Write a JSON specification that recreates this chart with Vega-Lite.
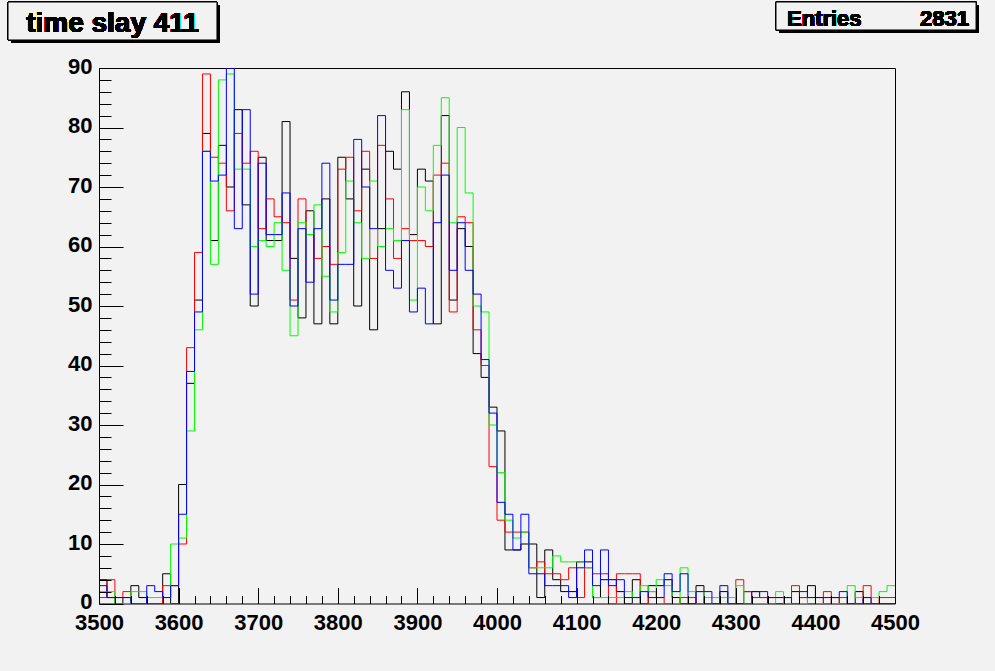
{
  "$schema": "https://vega.github.io/schema/vega-lite/v6.json",
  "width": 796,
  "height": 535.5,
  "autosize": {"type": "none"},
  "padding": {"left": 99, "top": 68, "right": 100, "bottom": 67.5},
  "background": "#f2f2f2",
  "config": {
    "view": {"stroke": "#000000", "strokeWidth": 1},
    "font": "Liberation Sans"
  },
  "datasets": {
    "hist": [
      {"t":3500,"k":4,"r":1,"g":2,"b":3},{"t":3510,"k":1,"r":4,"g":2,"b":1},{"t":3520,"k":0,"r":1,"g":0,"b":1},{"t":3530,"k":1,"r":2,"g":0,"b":1},{"t":3540,"k":3,"r":0,"g":2,"b":0},
      {"t":3550,"k":1,"r":0,"g":2,"b":0},{"t":3560,"k":0,"r":0,"g":1,"b":3},{"t":3570,"k":0,"r":0,"g":1,"b":2},{"t":3580,"k":5,"r":3,"g":1,"b":1},{"t":3590,"k":0,"r":3,"g":10,"b":3},
      {"t":3600,"k":20,"r":10,"g":11,"b":15},{"t":3610,"k":37,"r":43,"g":29,"b":39},{"t":3620,"k":51,"r":59,"g":46,"b":49},{"t":3630,"k":79,"r":89,"g":76,"b":76},{"t":3640,"k":61,"r":75,"g":57,"b":71},
      {"t":3650,"k":77,"r":74,"g":88,"b":72},{"t":3660,"k":70,"r":66,"g":89,"b":90},{"t":3670,"k":83,"r":79,"g":73,"b":63},{"t":3680,"k":67,"r":74,"g":73,"b":83},{"t":3690,"k":50,"r":76,"g":60,"b":52},
      {"t":3700,"k":75,"r":63,"g":61,"b":74},{"t":3710,"k":61,"r":68,"g":60,"b":62},{"t":3720,"k":61,"r":65,"g":64,"b":62},{"t":3730,"k":81,"r":64,"g":56,"b":69},{"t":3740,"k":58,"r":51,"g":45,"b":50},
      {"t":3750,"k":48,"r":68,"g":64,"b":63},{"t":3760,"k":66,"r":62,"g":62,"b":54},{"t":3770,"k":47,"r":58,"g":67,"b":63},{"t":3780,"k":68,"r":60,"g":55,"b":74},{"t":3790,"k":47,"r":57,"g":49,"b":51},
      {"t":3800,"k":75,"r":73,"g":59,"b":57},{"t":3810,"k":68,"r":75,"g":71,"b":57},{"t":3820,"k":50,"r":66,"g":64,"b":78},{"t":3830,"k":73,"r":76,"g":58,"b":70},{"t":3840,"k":46,"r":58,"g":71,"b":63},
      {"t":3850,"k":63,"r":77,"g":60,"b":82},{"t":3860,"k":76,"r":68,"g":63,"b":56},{"t":3870,"k":73,"r":58,"g":61,"b":53},{"t":3880,"k":86,"r":63,"g":83,"b":61},{"t":3890,"k":62,"r":61,"g":51,"b":49},
      {"t":3900,"k":73,"r":61,"g":70,"b":53},{"t":3910,"k":71,"r":60,"g":66,"b":47},{"t":3920,"k":47,"r":72,"g":77,"b":64},{"t":3930,"k":82,"r":74,"g":85,"b":72},{"t":3940,"k":51,"r":49,"g":64,"b":56},
      {"t":3950,"k":63,"r":65,"g":80,"b":64},{"t":3960,"k":60,"r":64,"g":69,"b":56},{"t":3970,"k":42,"r":46,"g":50,"b":52},{"t":3980,"k":38,"r":40,"g":49,"b":41},{"t":3990,"k":33,"r":23,"g":30,"b":32},
      {"t":4000,"k":29,"r":14,"g":22,"b":17},{"t":4010,"k":9,"r":12,"g":14,"b":15},{"t":4020,"k":9,"r":12,"g":11,"b":9},{"t":4030,"k":10,"r":12,"g":12,"b":15},{"t":4040,"k":10,"r":6,"g":6,"b":5},
      {"t":4050,"k":1,"r":7,"g":6,"b":5},{"t":4060,"k":9,"r":5,"g":6,"b":3},{"t":4070,"k":4,"r":5,"g":8,"b":3},{"t":4080,"k":2,"r":4,"g":7,"b":3},{"t":4090,"k":2,"r":6,"g":7,"b":1},
      {"t":4100,"k":7,"r":1,"g":7,"b":6},{"t":4110,"k":7,"r":6,"g":6,"b":9},{"t":4120,"k":1,"r":5,"g":1,"b":3},{"t":4130,"k":4,"r":5,"g":1,"b":9},{"t":4140,"k":4,"r":0,"g":1,"b":3},
      {"t":4150,"k":2,"r":5,"g":1,"b":4},{"t":4160,"k":0,"r":5,"g":2,"b":1},{"t":4170,"k":4,"r":5,"g":1,"b":1},{"t":4180,"k":0,"r":0,"g":3,"b":2},{"t":4190,"k":3,"r":2,"g":2,"b":1},
      {"t":4200,"k":3,"r":1,"g":4,"b":1},{"t":4210,"k":4,"r":0,"g":3,"b":5},{"t":4220,"k":1,"r":0,"g":0,"b":2},{"t":4230,"k":0,"r":1,"g":6,"b":5},{"t":4240,"k":0,"r":1,"g":2,"b":0},
      {"t":4250,"k":3,"r":0,"g":2,"b":2},{"t":4260,"k":0,"r":0,"g":1,"b":2},{"t":4270,"k":0,"r":0,"g":1,"b":0},{"t":4280,"k":2,"r":0,"g":1,"b":3},{"t":4290,"k":0,"r":0,"g":1,"b":0},
      {"t":4300,"k":0,"r":4,"g":3,"b":0},{"t":4310,"k":2,"r":2,"g":0,"b":0},{"t":4320,"k":2,"r":1,"g":0,"b":2},{"t":4330,"k":1,"r":1,"g":0,"b":2},{"t":4340,"k":0,"r":1,"g":0,"b":1},
      {"t":4350,"k":0,"r":1,"g":2,"b":1},{"t":4360,"k":1,"r":0,"g":0,"b":1},{"t":4370,"k":2,"r":3,"g":0,"b":0},{"t":4380,"k":1,"r":1,"g":0,"b":2},{"t":4390,"k":3,"r":0,"g":1,"b":1},
      {"t":4400,"k":1,"r":0,"g":0,"b":1},{"t":4410,"k":0,"r":2,"g":0,"b":1},{"t":4420,"k":1,"r":0,"g":0,"b":1},{"t":4430,"k":0,"r":1,"g":0,"b":2},{"t":4440,"k":0,"r":0,"g":3,"b":0},
      {"t":4450,"k":2,"r":0,"g":1,"b":0},{"t":4460,"k":0,"r":3,"g":1,"b":1},{"t":4470,"k":0,"r":0,"g":1,"b":0},{"t":4480,"k":0,"r":1,"g":2,"b":0},{"t":4490,"k":0,"r":1,"g":3,"b":0},
      {"t":4500,"k":0,"r":1,"g":3,"b":0}
    ]
  },
  "data": {"name": "hist"},
  "resolve": {"axis": {"x": "independent", "y": "independent"}},
  "layer": [
    {
      "mark": {"type": "line", "interpolate": "step-after", "color": "#000000", "strokeWidth": 1, "clip": true},
      "encoding": {
        "x": {"field": "t", "type": "quantitative", "scale": {"domain": [3500, 4500], "nice": false},
          "axis": {"orient": "bottom", "title": null, "values": [3500,3600,3700,3800,3900,4000,4100,4200,4300,4400,4500], "format": "d",
            "tickSize": -16, "tickColor": "#000000", "tickWidth": 1, "domain": false, "grid": false, "labelPadding": 25,
            "labelFont": "Liberation Sans", "labelFontSize": 22, "labelFontWeight": "bold", "labelColor": "#000000", "labelFlush": false, "labelOverlap": false, "labelBound": false, "zindex": 1}},
        "y": {"field": "k", "type": "quantitative", "scale": {"domain": [0, 90], "nice": false},
          "axis": {"orient": "left", "title": null, "values": [0,10,20,30,40,50,60,70,80,90], "format": "d",
            "tickSize": -24, "tickColor": "#000000", "tickWidth": 1, "domain": false, "grid": false, "labelPadding": 31, "labelOffset": -2,
            "labelFont": "Liberation Sans", "labelFontSize": 22, "labelFontWeight": "bold", "labelColor": "#000000", "labelFlush": false, "labelOverlap": false, "labelBound": false, "zindex": 1}}
      }
    },
    {
      "mark": {"type": "line", "interpolate": "step-after", "color": "#ff0000", "strokeWidth": 1, "clip": true},
      "encoding": {
        "x": {"field": "t", "type": "quantitative", "scale": {"domain": [3500, 4500], "nice": false}, "axis": null},
        "y": {"field": "r", "type": "quantitative", "scale": {"domain": [0, 90], "nice": false}, "axis": null}
      }
    },
    {
      "mark": {"type": "line", "interpolate": "step-after", "color": "#00ff00", "strokeWidth": 1, "clip": true},
      "encoding": {
        "x": {"field": "t", "type": "quantitative", "scale": {"domain": [3500, 4500], "nice": false}, "axis": null},
        "y": {"field": "g", "type": "quantitative", "scale": {"domain": [0, 90], "nice": false}, "axis": null}
      }
    },
    {
      "mark": {"type": "line", "interpolate": "step-after", "color": "#0000ff", "strokeWidth": 1, "clip": true},
      "encoding": {
        "x": {"field": "t", "type": "quantitative", "scale": {"domain": [3500, 4500], "nice": false}, "axis": null},
        "y": {"field": "b", "type": "quantitative", "scale": {"domain": [0, 90], "nice": false}, "axis": null}
      }
    },
    {
      "mark": {"type": "point", "opacity": 0},
      "encoding": {
        "x": {"field": "t", "type": "quantitative", "scale": {"domain": [3500, 4500], "nice": false},
          "axis": {"orient": "bottom", "title": null, "labels": false, "domain": false, "grid": false, "tickSize": -8, "tickColor": "#000000", "tickWidth": 1, "zindex": 1,
            "values": [3500,3520,3540,3560,3580,3600,3620,3640,3660,3680,3700,3720,3740,3760,3780,3800,3820,3840,3860,3880,3900,3920,3940,3960,3980,4000,4020,4040,4060,4080,4100,4120,4140,4160,4180,4200,4220,4240,4260,4280,4300,4320,4340,4360,4380,4400,4420,4440,4460,4480,4500]}},
        "y": {"field": "k", "type": "quantitative", "scale": {"domain": [0, 90], "nice": false},
          "axis": {"orient": "left", "title": null, "labels": false, "domain": false, "grid": false, "tickSize": -12, "tickColor": "#000000", "tickWidth": 1, "zindex": 1,
            "values": [0,2,4,6,8,10,12,14,16,18,20,22,24,26,28,30,32,34,36,38,40,42,44,46,48,50,52,54,56,58,60,62,64,66,68,70,72,74,76,78,80,82,84,86,88,90]}}
      }
    },
    {
      "mark": {"type": "rect", "color": "#000000"},
      "encoding": {
        "x": {"datum": 3389.5, "type": "quantitative", "axis": null}, "x2": {"datum": 3651.9},
        "y": {"datum": 100.59, "type": "quantitative", "axis": null}, "y2": {"datum": 94.21}
      }
    },
    {
      "mark": {"type": "rect", "fill": "#f2f2f2", "stroke": "#000000", "strokeWidth": 1},
      "encoding": {
        "x": {"datum": 3385.7, "type": "quantitative", "axis": null}, "x2": {"datum": 3648.2},
        "y": {"datum": 101.09, "type": "quantitative", "axis": null}, "y2": {"datum": 94.71}
      }
    },
    {
      "mark": {"type": "text", "font": "Liberation Sans", "fontSize": 28, "fontWeight": "bold", "color": "#000000", "align": "center", "baseline": "alphabetic"},
      "encoding": {
        "x": {"datum": 3517.0, "type": "quantitative", "axis": null},
        "y": {"datum": 96.05, "type": "quantitative", "axis": null},
        "text": {"value": "time slay 411"}
      }
    },
    {
      "mark": {"type": "rect", "color": "#000000"},
      "encoding": {
        "x": {"datum": 4354.3, "type": "quantitative", "axis": null}, "x2": {"datum": 4605.5},
        "y": {"datum": 100.59, "type": "quantitative", "axis": null}, "y2": {"datum": 95.88}
      }
    },
    {
      "mark": {"type": "rect", "fill": "#f2f2f2", "stroke": "#000000", "strokeWidth": 1},
      "encoding": {
        "x": {"datum": 4350.5, "type": "quantitative", "axis": null}, "x2": {"datum": 4601.8},
        "y": {"datum": 101.09, "type": "quantitative", "axis": null}, "y2": {"datum": 96.39}
      }
    },
    {
      "mark": {"type": "text", "font": "Liberation Sans", "fontSize": 22, "fontWeight": "bold", "color": "#000000", "align": "left", "baseline": "alphabetic"},
      "encoding": {
        "x": {"datum": 4364.3, "type": "quantitative", "axis": null},
        "y": {"datum": 97.06, "type": "quantitative", "axis": null},
        "text": {"value": "Entries"}
      }
    },
    {
      "mark": {"type": "text", "font": "Liberation Sans", "fontSize": 22, "fontWeight": "bold", "color": "#000000", "align": "right", "baseline": "alphabetic"},
      "encoding": {
        "x": {"datum": 4593.0, "type": "quantitative", "axis": null},
        "y": {"datum": 97.06, "type": "quantitative", "axis": null},
        "text": {"value": "2831"}
      }
    }
  ]
}
